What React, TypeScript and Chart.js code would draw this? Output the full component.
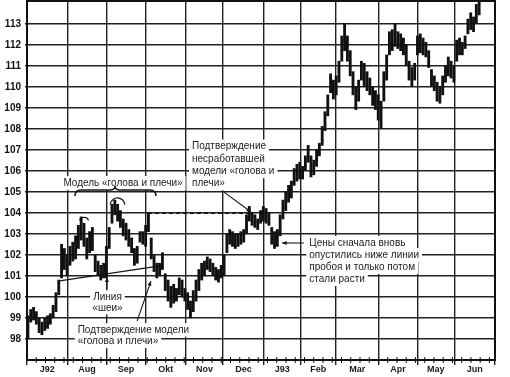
import React, { useEffect, useRef } from "react";
import { Chart, registerables } from "chart.js";

Chart.register(...registerables);

// ---- Data ----
const monthLabels = ["J92", "Aug", "Sep", "Okt", "Nov", "Dec", "J93", "Feb", "Mar", "Apr", "May", "Jun"];
// month boundaries in trading days (x-axis unit)
const monthStartDays = [0, 22, 43, 64, 86, 106, 128, 148, 167, 190, 211, 231, 253];
const priceTicks = [98, 99, 100, 101, 102, 103, 104, 105, 106, 107, 108, 109, 110, 111, 112, 113];

// one bar per session sample (1.515 trading days apart)
const FIRST_SESSION = 0.5;
const SESSION_STEP = 1.515;

const highs = [
  99.1, 99.4, 99.5, 99.3, 99.0, 98.8, 99.0, 99.1, 99.2, 99.6,
  100.2, 100.8, 102.5, 102.3, 102.0, 102.4, 102.6, 102.9, 103.4, 103.8,
  103.5, 102.8, 103.1, 103.3, 102.0, 101.7, 101.5, 101.6, 102.4, 103.3,
  104.4, 104.6, 104.4, 104.1, 103.7, 103.5, 103.2, 102.8, 102.3, 102.4,
  103.1, 103.1, 103.4, 104.0, 102.8, 102.0, 101.6, 101.6, 102.1, 101.1,
  100.8, 100.5, 100.6, 100.4, 100.9, 100.8, 100.4, 100.2, 99.8, 100.3,
  100.8, 101.3, 101.6, 101.7, 101.9, 101.8, 101.6, 101.4, 101.3, 101.5,
  102.0, 103.0, 103.2, 103.1, 103.0, 103.0, 103.1, 103.2, 103.9, 104.3,
  104.0, 103.9, 103.7, 104.1, 104.3, 104.2, 104.0, 103.3, 103.1, 103.2,
  103.9, 104.6, 105.0, 105.3, 105.5, 106.1, 106.3, 106.4, 106.2, 106.7,
  107.2, 106.7, 106.5, 107.0, 107.3, 108.1, 108.8, 109.6, 110.6, 110.3,
  110.5, 111.2, 112.4, 113.0, 112.4, 111.7, 110.7, 110.0, 110.3, 111.2,
  111.1, 110.7, 110.4, 110.0, 109.8, 109.6, 109.3, 110.7, 111.5, 112.6,
  112.7, 113.0, 112.6, 112.5, 112.3, 112.0, 111.2, 110.9, 111.1, 112.4,
  112.5, 112.3, 112.1, 111.7, 110.8, 110.5, 110.2, 110.0, 110.5, 111.0,
  111.4, 111.2, 111.0, 112.2, 112.3, 112.1, 112.4, 113.2, 113.5, 113.3,
  113.9, 114.3,
];
const lows = [
  98.0, 98.8, 98.9, 98.7, 98.3, 98.2, 98.4, 98.5, 98.7, 99.0,
  99.3, 100.1, 100.9, 101.3, 101.0, 101.5, 101.7, 101.8, 102.3, 102.7,
  102.4, 101.8, 102.1, 102.2, 101.2, 101.0, 100.8, 100.9, 100.9, 102.3,
  103.5, 103.9, 103.6, 103.3, 102.9, 102.7, 102.4, 102.1, 101.5, 101.6,
  102.6, 102.5, 102.4, 103.1, 101.8, 101.2, 100.9, 101.0, 101.3, 100.3,
  99.8, 99.5, 99.7, 99.8, 100.1, 100.0, 99.8, 99.4, 99.0, 99.3,
  99.8, 100.3, 100.8, 101.0, 101.3, 101.2, 101.0, 100.8, 100.7, 100.9,
  101.0, 102.1, 102.5, 102.4, 102.3, 102.4, 102.5, 102.6, 103.0, 103.6,
  103.4, 103.3, 103.2, 103.5, 103.6, 103.5, 103.4, 102.5, 102.3, 102.4,
  102.9, 103.7, 104.1, 104.5, 104.7, 105.3, 105.5, 105.6, 105.6, 106.0,
  106.4, 105.7, 105.8, 106.2, 106.7, 107.2, 107.9, 108.6, 109.7, 109.4,
  109.6, 110.2, 111.2, 111.7, 111.2, 110.5, 109.6, 108.9, 109.3, 110.3,
  110.0, 109.8, 109.6, 109.1, 108.9, 108.4, 108.0, 109.3, 110.3, 111.5,
  111.7, 111.9, 111.8, 111.7, 111.5, 111.0, 110.3, 110.0, 110.3, 111.5,
  111.6, 111.5, 111.4, 110.9, 110.0, 109.8, 109.3, 109.2, 109.6, 110.2,
  110.5, 110.4, 110.2, 111.2, 111.5, 111.5, 111.8, 112.5, 112.7, 112.6,
  113.0, 113.4,
];

// ---- Annotation layout (in data units: trading day, price) ----
const FONT = "Liberation Sans, Arial, sans-serif";
const INK = "#161616";

type Block = { lines: string[]; day: number; price: number; align: "left" | "center"; lh: number };
const textBlocks: Block[] = [
  { lines: ["Модель «голова и плечи»"], day: 51.9, price: 105.41, align: "center", lh: 12 },
  { lines: ["Подтверждение", "несработавшей", "модели «голова и", "плечи»"], day: 89.2, price: 107.14, align: "left", lh: 12.2 },
  { lines: ["Линия", "«шеи»"], day: 43.5, price: 100.0, align: "center", lh: 11 },
  { lines: ["Подтверждение модели", "«голова и плечи»"], day: 27.4, price: 98.43, align: "left", lh: 11.5 },
  { lines: ["Цены сначала вновь", "опустились ниже линии", "пробоя и только потом", "стали расти"], day: 152.6, price: 102.56, align: "left", lh: 12 },
];

const neckline = [[16.8, 100.75], [71.9, 101.47]];
const brace = { from: 25.9, to: 69.7, tip: 47.6, price: 105.08 };
const shoulderArcs = [
  { day: 30.8, price: 103.61, rx: 4.5, ry: 3.5 },
  { day: 48.9, price: 104.32, rx: 7.5, ry: 8 },
];
const failedLevel = { from: 65.4, to: 121.6, price: 103.97 };
const arrows = [
  { from: [43.2, 100.37], to: [43.2, 100.92] },
  { from: [59.5, 98.85], to: [67.0, 100.75] },
  { from: [106.5, 104.98], to: [121.1, 104.03] },
  { from: [149.6, 102.56], to: [137.9, 102.56] },
];

function drawArrow(ctx: CanvasRenderingContext2D, x1: number, y1: number, x2: number, y2: number) {
  ctx.beginPath();
  ctx.moveTo(x1, y1);
  ctx.lineTo(x2, y2);
  ctx.stroke();
  const a = Math.atan2(y2 - y1, x2 - x1);
  const h = 5;
  ctx.beginPath();
  ctx.moveTo(x2, y2);
  ctx.lineTo(x2 - h * Math.cos(a - 0.4), y2 - h * Math.sin(a - 0.4));
  ctx.lineTo(x2 - h * Math.cos(a + 0.4), y2 - h * Math.sin(a + 0.4));
  ctx.closePath();
  ctx.fill();
}

const annotatePlugin = {
  id: "annotate",
  beforeDatasetsDraw(chart: any) {
    const { ctx, scales } = chart;
    const X = (d: number) => scales.x.getPixelForValue(d);
    const Y = (p: number) => scales.y.getPixelForValue(p);
    ctx.save();
    ctx.font = `10px ${FONT}`;
    ctx.textBaseline = "middle";
    for (const b of textBlocks) {
      const x0 = X(b.day);
      const y0 = Y(b.price);
      b.lines.forEach((line, i) => {
        const w = ctx.measureText(line).width;
        const left = b.align === "center" ? x0 - w / 2 : x0;
        const y = y0 + i * b.lh;
        ctx.fillStyle = "#fff";
        ctx.fillRect(left - 3, y - b.lh / 2 - 1, w + 6, b.lh + 2);
      });
    }
    for (const b of textBlocks) {
      const x0 = X(b.day);
      const y0 = Y(b.price);
      ctx.fillStyle = "#222";
      ctx.textAlign = b.align;
      b.lines.forEach((line, i) => ctx.fillText(line, x0, y0 + i * b.lh));
    }
    ctx.restore();
  },
  afterDatasetsDraw(chart: any) {
    const { ctx, scales, chartArea } = chart;
    const X = (d: number) => scales.x.getPixelForValue(d);
    const Y = (p: number) => scales.y.getPixelForValue(p);
    ctx.save();
    ctx.strokeStyle = INK;
    ctx.fillStyle = INK;
    ctx.lineWidth = 1.3;

    // neckline
    ctx.beginPath();
    ctx.moveTo(X(neckline[0][0]), Y(neckline[0][1]));
    ctx.lineTo(X(neckline[1][0]), Y(neckline[1][1]));
    ctx.stroke();

    // brace
    {
      const x1 = X(brace.from), x2 = X(brace.to), xc = X(brace.tip), y = Y(brace.price);
      ctx.lineWidth = 1.6;
      ctx.beginPath();
      ctx.moveTo(x1, y + 6);
      ctx.quadraticCurveTo(x1, y, x1 + 6, y);
      ctx.lineTo(xc - 5, y);
      ctx.quadraticCurveTo(xc, y, xc, y - 4);
      ctx.quadraticCurveTo(xc, y, xc + 5, y);
      ctx.lineTo(x2 - 6, y);
      ctx.quadraticCurveTo(x2, y, x2, y + 6);
      ctx.stroke();
    }

    // arcs over shoulder and head
    ctx.lineWidth = 1.2;
    for (const a of shoulderArcs) {
      ctx.beginPath();
      ctx.ellipse(X(a.day), Y(a.price), a.rx, a.ry, 0, Math.PI * 1.05, Math.PI * 1.95);
      ctx.stroke();
    }

    // dashed level
    ctx.setLineDash([4, 3]);
    ctx.lineWidth = 1.2;
    ctx.beginPath();
    ctx.moveTo(X(failedLevel.from), Y(failedLevel.price));
    ctx.lineTo(X(failedLevel.to), Y(failedLevel.price));
    ctx.stroke();
    ctx.setLineDash([]);

    // arrows
    ctx.lineWidth = 1.1;
    for (const a of arrows) {
      drawArrow(ctx, X(a.from[0]), Y(a.from[1]), X(a.to[0]), Y(a.to[1]));
    }

    // frame (top/right)
    ctx.lineWidth = 2;
    ctx.strokeStyle = "#111";
    ctx.strokeRect(chartArea.left, chartArea.top, chartArea.right - chartArea.left, chartArea.bottom - chartArea.top);

    // weekly ticks on the time axis
    ctx.lineWidth = 1;
    const yb = chartArea.bottom;
    for (let d = 5; d < 253; d += 5) {
      const x = X(d);
      ctx.beginPath();
      ctx.moveTo(x, yb - 3);
      ctx.lineTo(x, yb + 3);
      ctx.stroke();
    }

    // month labels
    ctx.fillStyle = "#1a1a1a";
    ctx.font = `bold 9px ${FONT}`;
    ctx.textAlign = "center";
    ctx.textBaseline = "middle";
    monthLabels.forEach((m, i) => {
      const mid = (monthStartDays[i] + monthStartDays[i + 1]) / 2;
      ctx.fillText(m, X(mid), yb + 10);
    });

    // price labels
    ctx.fillStyle = "#111";
    ctx.font = `bold 10px ${FONT}`;
    ctx.textAlign = "right";
    priceTicks.forEach((p) => {
      ctx.fillText(String(p), chartArea.left - 6, Y(p) + 0.5);
    });
    ctx.restore();
  },
};

export default function App() {
  const ref = useRef<HTMLCanvasElement | null>(null);
  useEffect(() => {
    document.body.style.margin = "0";
    const canvas = ref.current;
    if (!canvas) return;
    const data = highs.map((h, i) => ({ x: FIRST_SESSION + i * SESSION_STEP, y: [lows[i], h] }));
    const chart = new Chart(canvas, {
      type: "bar",
      data: {
        datasets: [
          {
            data: data as any,
            backgroundColor: "#111",
            borderWidth: 0,
            barThickness: 2.2,
          },
        ],
      },
      options: {
        responsive: false,
        maintainAspectRatio: false,
        animation: false,
        devicePixelRatio: 1,
        events: [],
        layout: { padding: { top: 1, right: 15, left: 0, bottom: 0 } },
        plugins: { legend: { display: false }, tooltip: { enabled: false } },
        scales: {
          x: {
            type: "linear",
            offset: false,
            min: 0,
            max: 253,
            afterBuildTicks: (axis: any) => {
              axis.ticks = monthStartDays.map((v) => ({ value: v }));
            },
            afterFit: (axis: any) => {
              axis.height = 17;
            },
            ticks: { display: false },
            grid: { color: "#222", lineWidth: 1.4, tickLength: 5, drawTicks: true, offset: false },
            border: { display: true, color: "#111", width: 2 },
          },
          y: {
            type: "linear",
            min: 97,
            max: 114.06,
            afterBuildTicks: (axis: any) => {
              axis.ticks = priceTicks.map((v) => ({ value: v }));
            },
            afterFit: (axis: any) => {
              axis.width = 27;
            },
            ticks: { display: false },
            grid: { color: "#222", lineWidth: 1.4, tickLength: 2 },
            border: { display: true, color: "#111", width: 2 },
          },
        },
      },
      plugins: [annotatePlugin],
    });
    return () => chart.destroy();
  }, []);
  return <canvas ref={ref} width={510} height={377} style={{ display: "block" }} />;
}
